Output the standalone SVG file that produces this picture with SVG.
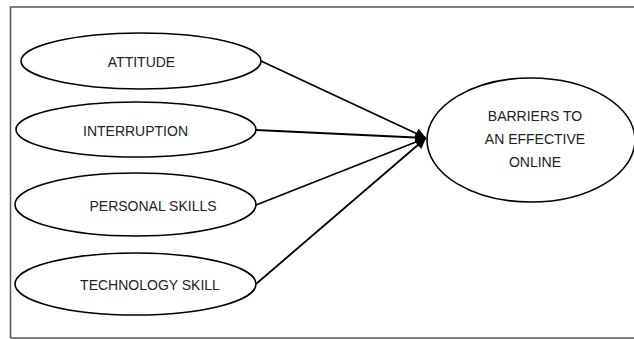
<svg xmlns="http://www.w3.org/2000/svg" width="634" height="339" viewBox="0 0 634 339">
<defs>
<style>
.n{fill:#fff;stroke:#000;stroke-width:1.6}
.t{font-family:"Liberation Sans",Arial,sans-serif;font-size:14px;fill:#222;text-anchor:middle}
.c{stroke:#000;stroke-width:1.8;fill:none}
</style>
<marker id="ah" viewBox="0 0 10 10" refX="10" refY="5" markerWidth="6" markerHeight="7" markerUnits="strokeWidth" orient="auto">
<path d="M0,0 L10,5 L0,10 Z" fill="#000"/>
</marker>
</defs>
<rect x="0" y="0" width="634" height="339" fill="#fff"/>
<path d="M10.5,338 L10.5,7 L640,7 M10.5,338 L640,338" stroke="#555" stroke-width="1.5" fill="none"/>
<g id="connectors">
<line class="c" x1="261" y1="61" x2="426" y2="138" marker-end="url(#ah)"/>
<line class="c" x1="256" y1="130" x2="426" y2="138" marker-end="url(#ah)"/>
<line class="c" x1="256" y1="205" x2="426" y2="138" marker-end="url(#ah)"/>
<line class="c" x1="256" y1="284" x2="426" y2="138" marker-end="url(#ah)"/>
</g>
<g id="attitude">
<ellipse class="n" cx="141" cy="61" rx="120" ry="28"/>
<text class="t" x="141.5" y="67">ATTITUDE</text>
</g>
<g id="interruption">
<ellipse class="n" cx="136" cy="129.5" rx="120" ry="27.5"/>
<text class="t" x="135.5" y="136">INTERRUPTION</text>
</g>
<g id="personal">
<ellipse class="n" cx="135.5" cy="204.5" rx="120.5" ry="31.5"/>
<text class="t" x="153" y="211">PERSONAL SKILLS</text>
</g>
<g id="technology">
<ellipse class="n" cx="135.5" cy="284" rx="120.5" ry="31"/>
<text class="t" x="150" y="290">TECHNOLOGY SKILL</text>
</g>
<g id="barriers">
<ellipse class="n" cx="531" cy="140" rx="104" ry="62"/>
<text class="t" x="535" y="121">BARRIERS TO</text>
<text class="t" x="535" y="144">AN EFFECTIVE</text>
<text class="t" x="535" y="167">ONLINE</text>
</g>
</svg>
